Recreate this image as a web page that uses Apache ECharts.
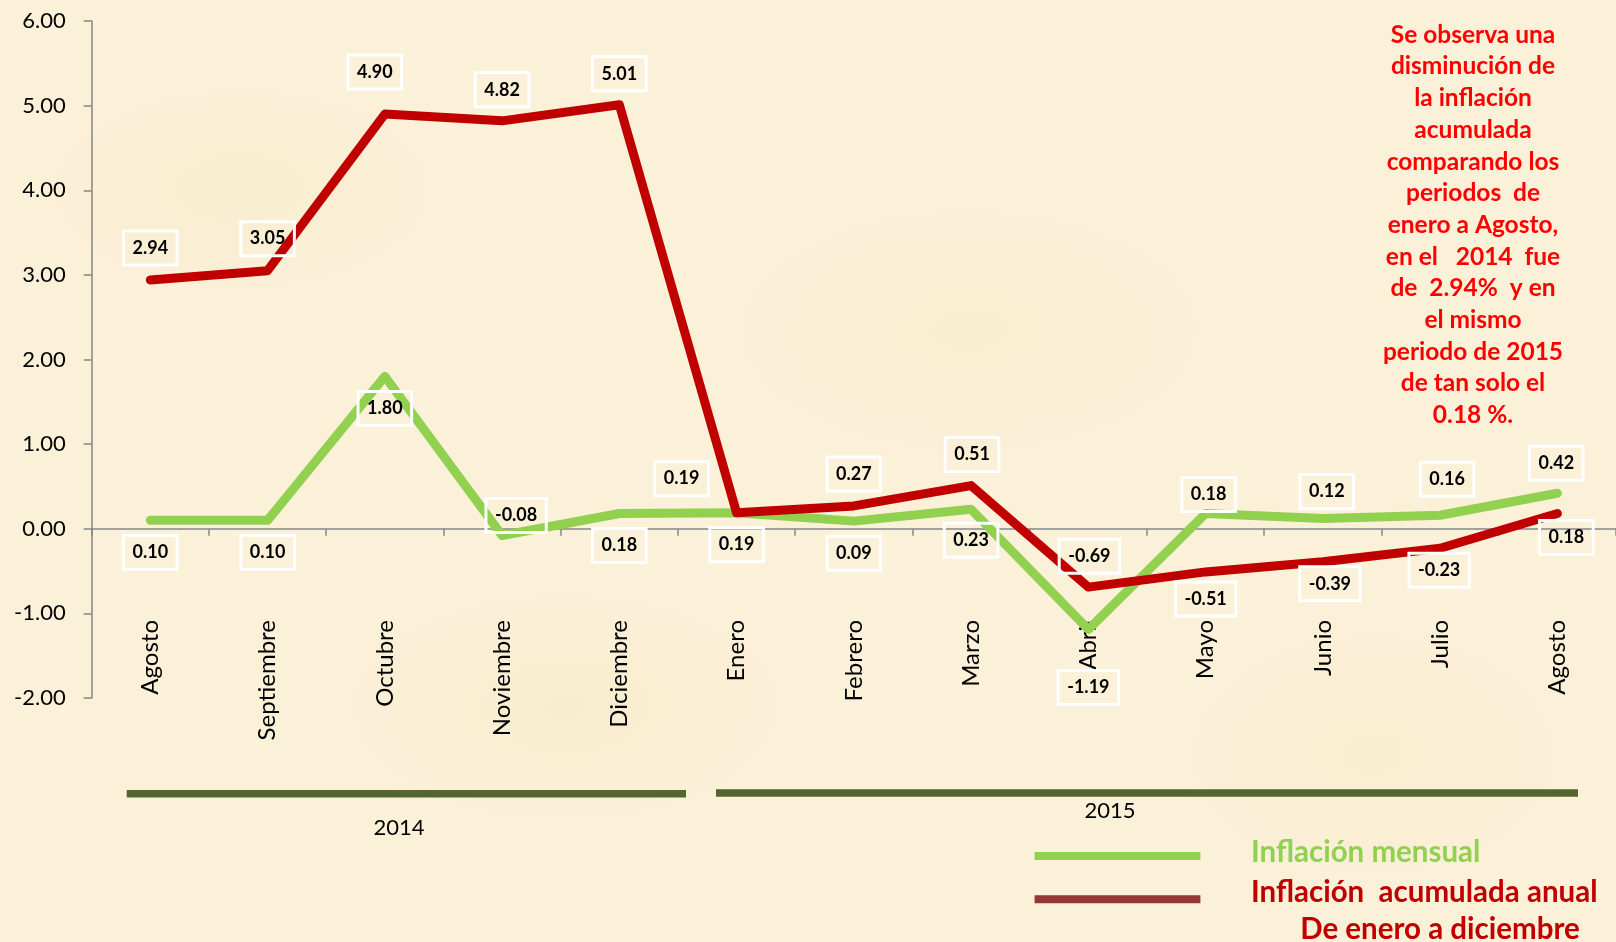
<!DOCTYPE html>
<html><head><meta charset="utf-8">
<script src="https://cdn.jsdelivr.net/npm/echarts@6/dist/echarts.min.js"></script>
<style>
html,body{margin:0;padding:0;width:1616px;height:942px;overflow:hidden;}
body{background-color:#FBF0D8;
background-image:
 radial-gradient(ellipse 300px 160px at 15% 20%, rgba(245,230,190,0.3), rgba(0,0,0,0) 70%),
 radial-gradient(ellipse 380px 200px at 60% 35%, rgba(246,232,195,0.3), rgba(0,0,0,0) 70%),
 radial-gradient(ellipse 340px 180px at 35% 75%, rgba(244,229,188,0.3), rgba(0,0,0,0) 70%),
 radial-gradient(ellipse 300px 200px at 85% 80%, rgba(246,232,195,0.3), rgba(0,0,0,0) 70%);}
#c{width:1616px;height:942px;}
</style></head><body><div id="c"></div>
<script>
// ---- data ----
const categories = ['Agosto','Septiembre','Octubre','Noviembre','Diciembre','Enero','Febrero','Marzo','Abril','Mayo','Junio','Julio','Agosto'];
const mensual   = [0.10, 0.10, 1.80, -0.08, 0.18, 0.19, 0.09, 0.23, -1.19, 0.18, 0.12, 0.16, 0.42];
const acumulada = [2.94, 3.05, 4.90, 4.82, 5.01, 0.19, 0.27, 0.51, -0.69, -0.51, -0.39, -0.23, 0.18];
const yMin = -2, yMax = 6, yStep = 1;
const years = ['2014', '2015'];
const seriesNames = ['Inflación mensual', 'Inflación  acumulada anual'];
const legendExtra = 'De enero a diciembre';
const noteLines = ['Se observa una','disminución de','la inflación','acumulada','comparando los','periodos  de','enero a Agosto,','en el   2014  fue','de  2.94%  y en','el mismo','periodo de 2015','de tan solo el','0.18 %.'];

// ---- label placement (styling) ----
const greenLabelOffsets = [[0,32],[0,32],[0,32],[14,-20],[0,32],[-55,-34],[0,32],[0,31],[0,58],[3,-19],[4,-27],[7,-36],[-1,-30]];
const redLabelOffsets   = [[0,-32],[0,-32],[-10,-42],[0,-31],[0,-31],[0,32],[0,-32],[1,-31],[1,-31],[0,27],[7,22],[-1,22],[9,24]];

const FONT = 'Lato, "Open Sans", sans-serif';
const GREEN = '#92D050', RED = '#C00000';

function labelled(values, offsets) {
  return values.map((v, i) => ({
    value: v,
    label: { offset: offsets[i] }
  }));
}
const boxLabel = {
  show: true, position: 'inside',
  formatter: p => p.value.toFixed(2),
  fontFamily: FONT, fontWeight: 'bold', fontSize: 18, lineHeight: 18,
  color: '#000', borderColor: '#FFFFFF', borderWidth: 1.5,
  padding: [8, 9, 8, 9], backgroundColor: 'transparent'
};

const chart = echarts.init(document.getElementById('c'), null, { renderer: 'canvas' });
chart.setOption({
  backgroundColor: 'transparent',
  animation: false,
  grid: { left: 91.7, top: 21, width: 1530, height: 677, containLabel: false },
  xAxis: {
    type: 'category', data: categories, boundaryGap: true,
    axisLine: { onZero: true, lineStyle: { color: '#868686', width: 1.5 } },
    axisTick: { show: true, length: 7, lineStyle: { color: '#868686', width: 1.5 } },
    axisLabel: { rotate: 90, margin: -78, interval: 0, fontFamily: FONT, fontSize: 24, color: '#000' },
    splitLine: { show: false }
  },
  yAxis: {
    type: 'value', min: yMin, max: yMax, interval: yStep,
    axisLine: { show: true, lineStyle: { color: '#868686', width: 1.5 } },
    axisTick: { show: true, length: 8, lineStyle: { color: '#868686', width: 1.5 } },
    axisLabel: { margin: 26, fontFamily: FONT, fontSize: 22, color: '#000', formatter: v => v.toFixed(2) },
    splitLine: { show: false }
  },
  series: [
    {
      name: seriesNames[0], type: 'line', data: labelled(mensual, greenLabelOffsets),
      symbol: 'circle', symbolSize: 0.1, itemStyle: { color: GREEN },
      lineStyle: { color: GREEN, width: 9, cap: 'round', join: 'round' },
      label: boxLabel, z: 2
    },
    {
      name: seriesNames[1], type: 'line', data: labelled(acumulada, redLabelOffsets),
      symbol: 'circle', symbolSize: 0.1, itemStyle: { color: RED },
      lineStyle: { color: RED, width: 9, cap: 'round', join: 'round' },
      label: boxLabel, z: 3
    }
  ],
  graphic: [
    // year bars and labels
    { type: 'rect', shape: { x: 126.7, y: 790, width: 559.3, height: 7.5 }, style: { fill: '#536630' }, silent: true },
    { type: 'rect', shape: { x: 716, y: 789.3, width: 862, height: 7.5 }, style: { fill: '#536630' }, silent: true },
    { type: 'text', style: { text: years[0], x: 399, y: 828, font: '22px ' + FONT, fill: '#000', textAlign: 'center', textVerticalAlign: 'middle' } },
    { type: 'text', style: { text: years[1], x: 1110, y: 811, font: '22px ' + FONT, fill: '#000', textAlign: 'center', textVerticalAlign: 'middle' } },
    // legend
    { type: 'rect', shape: { x: 1034.6, y: 852, width: 165.8, height: 8 }, style: { fill: GREEN }, silent: true },
    { type: 'rect', shape: { x: 1034.6, y: 895.3, width: 165.8, height: 8 }, style: { fill: '#953735' }, silent: true },
    { type: 'text', style: { text: seriesNames[0], x: 1251, y: 852, font: 'bold 29.5px ' + FONT, fill: GREEN, textAlign: 'left', textVerticalAlign: 'middle' } },
    { type: 'text', style: { text: seriesNames[1], x: 1251, y: 892, font: 'bold 29.5px ' + FONT, fill: RED, textAlign: 'left', textVerticalAlign: 'middle' } },
    { type: 'text', style: { text: legendExtra, x: 1440, y: 929, font: 'bold 29.5px ' + FONT, fill: RED, textAlign: 'center', textVerticalAlign: 'middle' } },
    // note
    { type: 'text', style: { text: noteLines.join('\n'), x: 1473, y: 19, font: 'bold 24.5px ' + FONT, lineHeight: 31.7, fill: '#FF0000', textAlign: 'center', textVerticalAlign: 'top' } }
  ]
});
</script>
</body></html>
